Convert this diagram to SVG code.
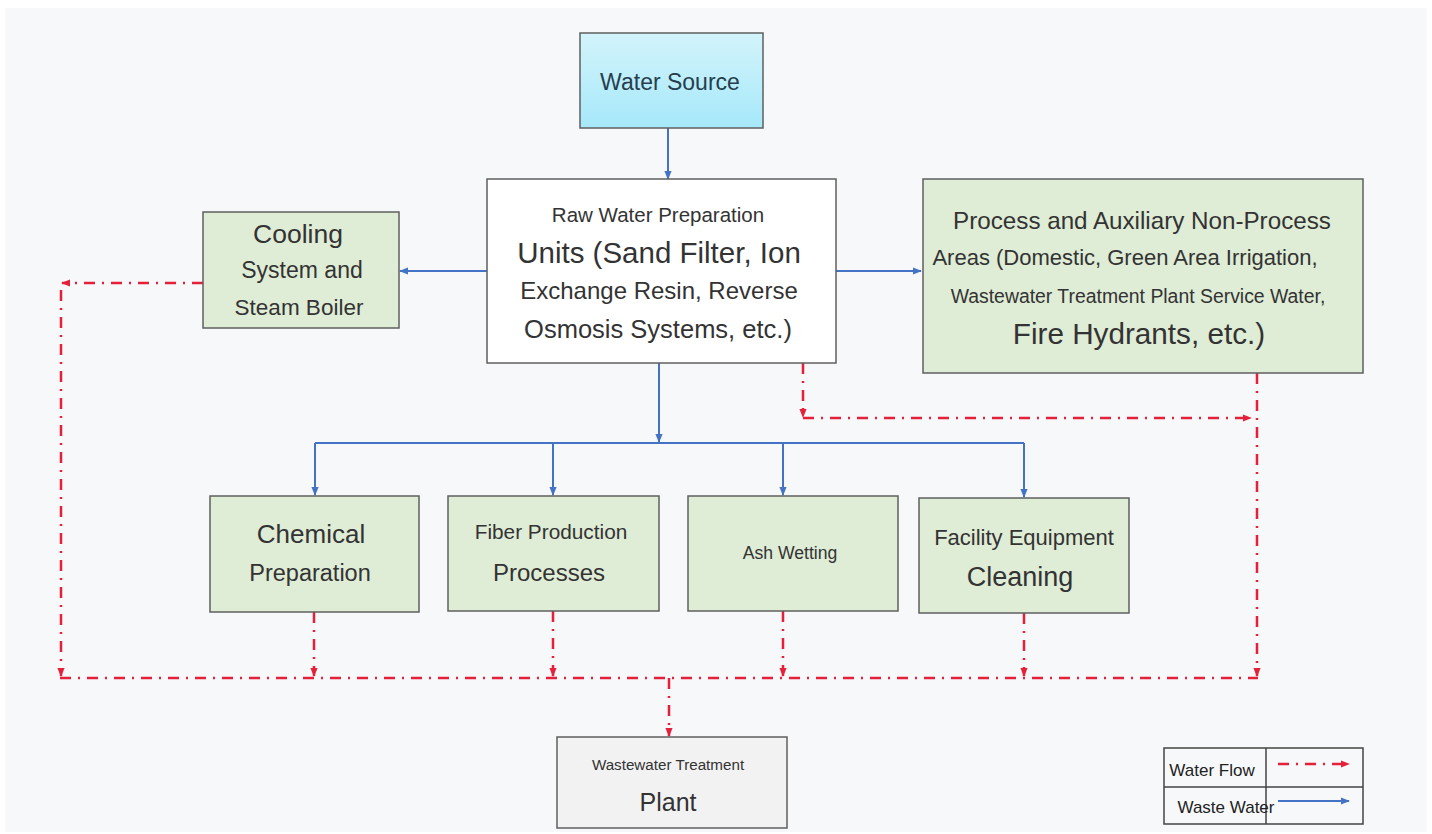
<svg xmlns="http://www.w3.org/2000/svg" width="1432" height="834" viewBox="0 0 1432 834">
<defs>
<linearGradient id="gWater" x1="0" y1="0" x2="0" y2="1">
<stop offset="0" stop-color="#d3f4fb"/>
<stop offset="1" stop-color="#a6e8fa"/>
</linearGradient>
<marker id="mb" viewBox="0 0 10 10" refX="9" refY="5" markerWidth="9" markerHeight="9" markerUnits="userSpaceOnUse" orient="auto">
<path d="M0,1 L10,5 L0,9 Z" fill="#4472c4"/>
</marker>
<marker id="mr" viewBox="0 0 10 10" refX="9" refY="5" markerWidth="9" markerHeight="9" markerUnits="userSpaceOnUse" orient="auto">
<path d="M0,1 L10,5 L0,9 Z" fill="#e5203a"/>
</marker>
</defs>
<style>
.box{stroke:#5f5f5f;stroke-width:1.5}
.green{fill:#dfecd6}
.white{fill:#ffffff}
.grey{fill:#f2f2f2}
text{font-family:"Liberation Sans",Arial,sans-serif;fill:#333333;text-anchor:middle}
.blue{stroke:#4472c4;stroke-width:2;fill:none}
.red{stroke:#e5203a;stroke-width:2.5;fill:none;stroke-dasharray:11 7 2 7}
.leg{stroke:#444;stroke-width:1.5;fill:none}
</style>
<rect x="0" y="0" width="1432" height="834" fill="#ffffff"/>
<rect x="5" y="8" width="1422" height="824" fill="#f7f8fa"/>

<g id="connectors">
<line class="blue" x1="668" y1="128" x2="668" y2="179" marker-end="url(#mb)"/>
<line class="blue" x1="487" y1="271" x2="400" y2="271" marker-end="url(#mb)"/>
<line class="blue" x1="836" y1="271" x2="921" y2="271" marker-end="url(#mb)"/>
<line class="blue" x1="659" y1="363" x2="659" y2="442" marker-end="url(#mb)"/>
<line class="blue" x1="315" y1="443" x2="1024" y2="443"/>
<line class="blue" x1="315" y1="443" x2="315" y2="495" marker-end="url(#mb)"/>
<line class="blue" x1="553" y1="443" x2="553" y2="495" marker-end="url(#mb)"/>
<line class="blue" x1="783" y1="443" x2="783" y2="495" marker-end="url(#mb)"/>
<line class="blue" x1="1024" y1="443" x2="1024" y2="497" marker-end="url(#mb)"/>

<line class="red" x1="203" y1="283" x2="62" y2="283" marker-end="url(#mr)"/>
<line class="red" x1="61" y1="290" x2="61" y2="676" marker-end="url(#mr)"/>
<line class="red" x1="803" y1="363" x2="803" y2="417" marker-end="url(#mr)"/>
<line class="red" x1="803" y1="418" x2="1251" y2="418" marker-end="url(#mr)"/>
<line class="red" x1="1257" y1="373" x2="1257" y2="676" marker-end="url(#mr)"/>
<line class="red" x1="314" y1="612" x2="314" y2="676" marker-end="url(#mr)"/>
<line class="red" x1="553" y1="611" x2="553" y2="676" marker-end="url(#mr)"/>
<line class="red" x1="783" y1="611" x2="783" y2="676" marker-end="url(#mr)"/>
<line class="red" x1="1024" y1="613" x2="1024" y2="676" marker-end="url(#mr)"/>
<line class="red" x1="60" y1="678" x2="1258" y2="678"/>
<line class="red" x1="669" y1="678" x2="669" y2="736" marker-end="url(#mr)"/>
</g>

<g id="water-source">
<rect class="box" x="580" y="33" width="183" height="95" fill="url(#gWater)"/>
<text x="670" y="90" font-size="23" style="fill:#263e4e">Water Source</text>
</g>

<g id="raw-water">
<rect class="box white" x="487" y="179" width="349" height="184"/>
<text x="658" y="222" font-size="20.5">Raw Water Preparation</text>
<text x="659" y="263" font-size="29.5">Units (Sand Filter, Ion</text>
<text x="659" y="299" font-size="24">Exchange Resin, Reverse</text>
<text x="658" y="338" font-size="25.5">Osmosis Systems, etc.)</text>
</g>

<g id="cooling">
<rect class="box green" x="203" y="212" width="196" height="116"/>
<text x="298" y="243" font-size="26.5">Cooling</text>
<text x="302" y="278" font-size="23">System and</text>
<text x="299" y="315" font-size="22.5">Steam Boiler</text>
</g>

<g id="aux-areas">
<rect class="box green" x="923" y="179" width="440" height="194"/>
<text x="1142" y="229" font-size="24.2">Process and Auxiliary Non-Process</text>
<text x="1125" y="265" font-size="22">Areas (Domestic, Green Area Irrigation,</text>
<text x="1138" y="303" font-size="19.4">Wastewater Treatment Plant Service Water,</text>
<text x="1139" y="344" font-size="29.7">Fire Hydrants, etc.)</text>
</g>

<g id="chemical">
<rect class="box green" x="210" y="496" width="209" height="116"/>
<text x="311" y="543" font-size="26">Chemical</text>
<text x="310" y="581" font-size="23.5">Preparation</text>
</g>

<g id="fiber">
<rect class="box green" x="448" y="496" width="211" height="115"/>
<text x="551" y="539" font-size="20.8">Fiber Production</text>
<text x="549" y="581" font-size="24">Processes</text>
</g>

<g id="ash">
<rect class="box green" x="688" y="496" width="210" height="115"/>
<text x="790" y="559" font-size="17.6">Ash Wetting</text>
</g>

<g id="facility">
<rect class="box green" x="919" y="498" width="210" height="115"/>
<text x="1024" y="545" font-size="22">Facility Equipment</text>
<text x="1020" y="586" font-size="27">Cleaning</text>
</g>

<g id="wwtp">
<rect class="box grey" x="557" y="737" width="230" height="91"/>
<text x="668" y="770" font-size="15.2">Wastewater Treatment</text>
<text x="668" y="811" font-size="25">Plant</text>
</g>

<g id="legend">
<rect class="leg" x="1164" y="748" width="199" height="76" fill="#ffffff"/>
<line class="leg" x1="1164" y1="787" x2="1363" y2="787"/>
<line class="leg" x1="1266" y1="748" x2="1266" y2="824"/>
<text x="1212" y="776" font-size="17" style="fill:#222">Water Flow</text>
<text x="1226" y="813" font-size="17" style="fill:#222">Waste Water</text>
<line class="red" x1="1278" y1="764" x2="1349" y2="764" marker-end="url(#mr)"/>
<line class="blue" x1="1278" y1="801" x2="1349" y2="801" marker-end="url(#mb)"/>
</g>
</svg>
